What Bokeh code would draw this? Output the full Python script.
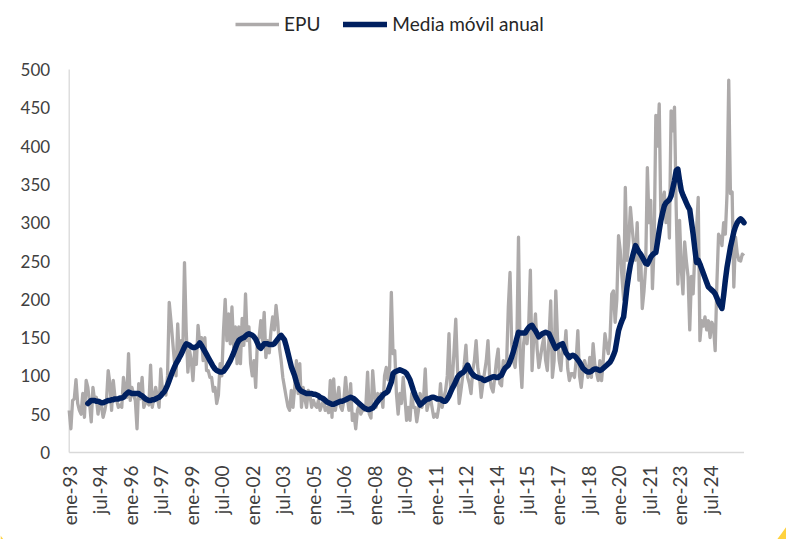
import numpy as np
from bokeh.plotting import figure
from bokeh.models import ColumnDataSource, Legend, LegendItem, Range1d
from bokeh.core.properties import value
from bokeh.embed import file_html
from bokeh.resources import INLINE

# ---------------- data (monthly, ene-1993 .. mar-2026) ----------------
epu_1993 = [55, 31, 68, 70, 95, 64, 55, 50, 77, 46, 94, 85]
epu_1994 = [65, 40, 85, 68, 72, 50, 68, 60, 46, 55, 68, 107]
epu_1995 = [90, 55, 94, 72, 68, 59, 62, 59, 98, 81, 72, 129]
epu_1996 = [68, 85, 75, 68, 31, 90, 70, 98, 59, 65, 68, 62]
epu_1997 = [114, 59, 72, 85, 72, 59, 109, 81, 85, 75, 100, 196]
epu_1998 = [172, 146, 120, 100, 168, 120, 146, 130, 248, 160, 105, 133]
epu_1999 = [120, 94, 133, 115, 166, 142, 150, 120, 150, 107, 107, 98]
epu_2000 = [98, 80, 85, 64, 75, 116, 100, 159, 200, 146, 181, 142]
epu_2001 = [190, 137, 164, 116, 164, 116, 175, 140, 207, 146, 164, 116]
epu_2002 = [100, 120, 85, 146, 150, 172, 146, 183, 124, 146, 130, 159]
epu_2003 = [177, 160, 192, 170, 137, 120, 98, 85, 72, 60, 55, 81]
epu_2004 = [59, 85, 120, 77, 116, 59, 85, 70, 59, 81, 75, 59]
epu_2005 = [68, 62, 59, 68, 55, 62, 68, 55, 59, 52, 94, 46]
epu_2006 = [96, 55, 70, 85, 60, 55, 68, 98, 72, 55, 90, 42]
epu_2007 = [50, 31, 55, 62, 50, 55, 55, 62, 105, 50, 45, 107]
epu_2008 = [77, 59, 77, 68, 77, 59, 100, 111, 95, 111, 209, 129]
epu_2009 = [133, 77, 50, 77, 64, 98, 72, 42, 59, 42, 77, 59]
epu_2010 = [59, 40, 55, 77, 59, 70, 109, 55, 65, 72, 59, 46]
epu_2011 = [50, 46, 59, 90, 59, 72, 81, 100, 155, 77, 95, 133]
epu_2012 = [174, 110, 64, 80, 98, 115, 140, 98, 90, 77, 107, 120]
epu_2013 = [146, 110, 98, 72, 90, 105, 120, 146, 98, 85, 79, 98]
epu_2014 = [120, 135, 90, 87, 120, 110, 116, 190, 235, 142, 120, 111]
epu_2015 = [140, 281, 120, 85, 142, 159, 142, 165, 238, 107, 150, 181]
epu_2016 = [135, 111, 125, 140, 151, 120, 107, 150, 198, 98, 120, 211]
epu_2017 = [150, 120, 107, 140, 130, 159, 110, 94, 103, 103, 98, 120]
epu_2018 = [159, 100, 85, 107, 120, 110, 98, 124, 98, 142, 115, 105]
epu_2019 = [94, 120, 94, 120, 155, 140, 129, 150, 207, 211, 170, 200]
epu_2020 = [283, 264, 230, 200, 346, 251, 275, 320, 294, 270, 251, 300]
epu_2021 = [225, 260, 188, 210, 242, 372, 300, 329, 214, 270, 440, 400]
epu_2022 = [455, 300, 330, 340, 300, 330, 280, 446, 420, 451, 320, 220]
epu_2023 = [303, 240, 207, 275, 250, 230, 160, 230, 207, 260, 290, 333]
epu_2024 = [146, 172, 165, 177, 160, 172, 150, 170, 165, 133, 220, 285]
epu_2025 = [281, 270, 300, 285, 338, 486, 338, 340, 216, 281, 260, 251]
epu_2026 = [250, 259, 257]

# 12-month moving average as drawn (starts dic-1993)
ma_values = [
    64,
    66, 68, 68, 68, 67, 67, 66, 65, 65, 66, 67, 68,
    68, 69, 69, 70, 70, 70, 71, 71, 72, 75, 77, 79,
    78, 77, 77, 77, 77, 77, 75, 74, 72, 70, 69, 68,
    68, 69, 69, 70, 71, 72, 74, 77, 79, 83, 88, 94,
    100, 106, 111, 116, 120, 124, 128, 133, 138, 142, 141, 140,
    138, 137, 137, 138, 140, 143, 140, 136, 132, 128, 124, 120,
    116, 112, 109, 107, 106, 105, 105, 106, 109, 112, 116, 120,
    125, 130, 136, 142, 146, 148, 149, 150, 152, 154, 155, 154,
    153, 151, 148, 143, 138, 136, 139, 142, 142, 142, 141, 141,
    141, 142, 145, 148, 151, 153, 150, 147, 139, 130, 121, 112,
    106, 100, 92, 85, 82, 80, 79, 78, 77, 77, 77, 77,
    76, 76, 75, 74, 72, 71, 70, 68, 66, 65, 64, 63,
    63, 64, 65, 66, 67, 67, 68, 69, 70, 71, 72, 71,
    70, 68, 66, 64, 62, 60, 58, 57, 56, 56, 57, 58,
    61, 64, 67, 70, 72, 75, 77, 78, 80, 86, 92, 103,
    105, 106, 107, 108, 107, 106, 105, 103, 99, 95, 88, 81,
    75, 70, 66, 62, 64, 66, 68, 70, 70, 71, 72, 72,
    71, 70, 70, 70, 68, 67, 67, 70, 74, 79, 84, 88,
    93, 98, 101, 103, 104, 106, 110, 114, 109, 105, 102, 100,
    99, 98, 97, 97, 95, 94, 95, 96, 97, 98, 99, 99,
    98, 98, 100, 101, 106, 110, 112, 114, 119, 125, 132, 140,
    149, 157, 156, 156, 156, 156, 160, 163, 165, 166, 162, 159,
    155, 151, 153, 155, 156, 157, 156, 155, 150, 145, 140, 136,
    138, 140, 141, 142, 136, 130, 127, 124, 126, 127, 126, 124,
    121, 118, 114, 110, 108, 106, 105, 105, 106, 108, 109, 109,
    108, 107, 108, 110, 112, 114, 116, 118, 122, 127, 133, 146,
    159, 166, 172, 177, 196, 216, 232, 245, 254, 262, 270, 266,
    262, 259, 255, 251, 247, 246, 250, 255, 258, 260, 261, 275,
    290, 303, 313, 322, 326, 328, 330, 335, 345, 355, 368, 370,
    355, 342, 336, 331, 326, 321, 317, 301, 285, 266, 248, 251,
    246, 240, 234, 228, 222, 216, 214, 212, 210, 207, 202, 196,
    192, 188, 205, 225, 242, 255, 268, 278, 288, 295, 300, 303,
    305, 303, 300,
]

tick_labels = ["ene-93", "jul-94", "ene-96", "jul-97", "ene-99", "jul-00", "ene-02",
               "jul-03", "ene-05", "jul-06", "ene-08", "jul-09", "ene-11", "jul-12",
               "ene-14", "jul-15", "ene-17", "jul-18", "ene-20", "jul-21", "ene-23",
               "jul-24"]
y_ticks = [0, 50, 100, 150, 200, 250, 300, 350, 400, 450, 500]

epu = (epu_1993 + epu_1994 + epu_1995 + epu_1996 + epu_1997 + epu_1998 + epu_1999 +
       epu_2000 + epu_2001 + epu_2002 + epu_2003 + epu_2004 + epu_2005 + epu_2006 +
       epu_2007 + epu_2008 + epu_2009 + epu_2010 + epu_2011 + epu_2012 + epu_2013 +
       epu_2014 + epu_2015 + epu_2016 + epu_2017 + epu_2018 + epu_2019 + epu_2020 +
       epu_2021 + epu_2022 + epu_2023 + epu_2024 + epu_2025 + epu_2026)

n = len(epu)
month_idx = np.arange(n)
ma_start = n - len(ma_values)
tick_pos = [18 * k for k in range(len(tick_labels))]
y_max = y_ticks[-1]

src_epu = ColumnDataSource(dict(x=month_idx, y=epu))
src_ma = ColumnDataSource(dict(x=month_idx[ma_start:], y=ma_values))

FONT = value("Lato")
TEXT = "#404040"

# ---------------- layout geometry (canvas pixels) ----------------
W, H = 786, 539
FR_L, FR_R = 68.7, 743.5       # x of first / last month
FR_B, FR_T = 452.0, 69.0       # y of 0 / 500
sx = (FR_R - FR_L) / (n - 1)
sy = (FR_B - FR_T) / y_max
x_lo, x_hi = -FR_L / sx, (n - 1) + (W - FR_R) / sx
y_lo, y_hi = -(H - FR_B) / sy, FR_B / sy

p = figure(width=W, height=H, output_backend="svg", toolbar_location=None,
           x_range=Range1d(x_lo, x_hi), y_range=Range1d(y_lo, y_hi),
           x_axis_location=None, y_axis_location=None,
           min_border=0, min_border_left=0, min_border_right=0,
           min_border_top=0, min_border_bottom=0)
p.xgrid.grid_line_color = None
p.ygrid.grid_line_color = None
p.outline_line_color = None
p.background_fill_color = "white"
p.border_fill_color = "white"

# axis lines
p.segment(x0=[0, 0], y0=[0, 0], x1=[n - 1, 0], y1=[0, y_max],
          line_color="#D9D9D9", line_width=1.3)

r_epu = p.line("x", "y", source=src_epu, line_color="#ADAAAA", line_width=3.3,
               line_join="round")
r_ma = p.line("x", "y", source=src_ma, line_color="#002060", line_width=5.5,
              line_join="round", line_cap="round")

# tick labels
p.text(x=[0] * len(y_ticks), y=y_ticks, text=[str(t) for t in y_ticks],
       x_offset=-19, text_align="right", text_baseline="middle",
       text_font=FONT, text_font_size="17px", text_color=TEXT)
p.text(x=tick_pos, y=[0] * len(tick_pos), text=tick_labels, angle=np.pi / 2,
       x_offset=0, y_offset=13, text_align="right", text_baseline="middle",
       text_font=FONT, text_font_size="19px", text_color=TEXT)

# decorative yellow corners
def to_data(cx, cy):
    return [c / sx + x_lo for c in cx], [(FR_B - c) / sy for c in cy]

bx, by = to_data([786, 781, 776.5, 786], [526, 533, 539, 539])
p.patch(x=bx, y=by, fill_color="#FFD23F", line_color=None)
lx, ly = to_data([0, 0, 3], [535, 539, 539])
p.patch(x=lx, y=ly, fill_color="#FFD23F", line_color=None)

legend = Legend(items=[LegendItem(label="EPU", renderers=[r_epu]),
                       LegendItem(label="Media móvil anual", renderers=[r_ma])],
                orientation="horizontal", location=(235, 504),
                label_text_font="Lato", label_text_font_size="19px",
                label_text_color="#262626", glyph_width=44, glyph_height=22,
                label_height=22, spacing=23, label_standoff=5,
                border_line_color=None, background_fill_alpha=0,
                padding=0, margin=0)
p.add_layout(legend, "center")

open("out.html", "w").write(file_html(p, INLINE))
